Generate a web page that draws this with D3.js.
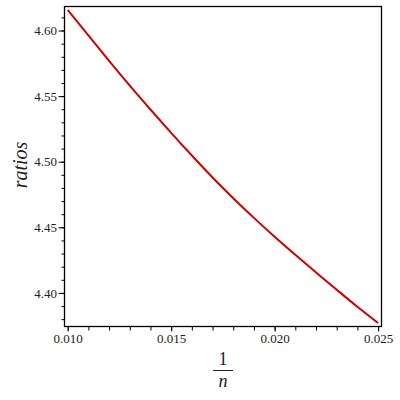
<!DOCTYPE html>
<html>
<head>
<meta charset="utf-8">
<script src="https://cdn.jsdelivr.net/npm/d3@7"></script>
<style>
  body { margin: 0; background: #fff; }
</style>
</head>
<body>
<svg id="chart" width="400" height="400"></svg>
<script>
// values: 1/n against ratios
var invN = [0.010, 0.011, 0.012, 0.013, 0.014, 0.015, 0.016, 0.017,
            0.018, 0.019, 0.020, 0.021, 0.022, 0.023, 0.024, 0.025];
var ratios = [4.6157, 4.5963, 4.5768, 4.5580, 4.5398, 4.5220, 4.5047, 4.4880,
              4.4722, 4.4572, 4.4428, 4.4290, 4.4156, 4.4024, 4.3894, 4.3770];

var xMajor = [0.010, 0.015, 0.020, 0.025];
var yMajor = [4.40, 4.45, 4.50, 4.55, 4.60];

var xMinor = d3.range(10, 26).map(d => d / 1000);
var yMinor = d3.range(438, 462).map(d => d / 100);

var serif = "'Liberation Serif', 'Times New Roman', serif";

var svg = d3.select("#chart");

var box = { left: 64.5, right: 381.5, top: 6.5, bottom: 326.5 };

var x = d3.scaleLinear()
    .domain([0.009846, 0.025164])
    .range([box.left, box.right]);

var y = d3.scaleLinear()
    .domain([4.3744, 4.6183])
    .range([box.bottom, box.top]);

svg.append("rect")
    .attr("width", 400).attr("height", 400)
    .attr("fill", "#fff");

// style an axis group the Maple way
function style_axis(g) {
    g.select(".domain").remove();
    g.selectAll("line").attr("stroke", "#000");
    g.selectAll("text")
        .style("font-family", serif)
        .style("font-size", "13px")
        .attr("fill", "#222");
}

// minor ticks
svg.append("g")
    .attr("transform", `translate(0,${box.bottom})`)
    .call(d3.axisBottom(x).tickValues(xMinor).tickSize(4).tickFormat(""))
    .call(style_axis);

svg.append("g")
    .attr("transform", `translate(${box.left},0)`)
    .call(d3.axisLeft(y).tickValues(yMinor).tickSize(3).tickFormat(""))
    .call(style_axis);

// major ticks with labels
svg.append("g")
    .attr("transform", `translate(0,${box.bottom})`)
    .call(d3.axisBottom(x).tickValues(xMajor).tickSize(5).tickPadding(2)
        .tickFormat(d3.format(".3f")))
    .call(style_axis);

svg.append("g")
    .attr("transform", `translate(${box.left},0)`)
    .call(d3.axisLeft(y).tickValues(yMajor).tickSize(6).tickPadding(1.5)
        .tickFormat(d3.format(".2f")))
    .call(style_axis);

// frame
svg.append("rect")
    .attr("x", box.left).attr("y", box.top)
    .attr("width", box.right - box.left)
    .attr("height", box.bottom - box.top)
    .attr("fill", "none")
    .attr("stroke", "#000")
    .attr("stroke-width", 1.3);

// curve
var line = d3.line()
    .x((d, i) => x(invN[i]))
    .y(d => y(d))
    .curve(d3.curveMonotoneX);

svg.append("path")
    .datum(ratios)
    .attr("d", line)
    .attr("fill", "none")
    .attr("stroke", "#d00000")
    .attr("stroke-width", 2);

// y label
svg.append("text")
    .attr("transform", "translate(27,165) rotate(-90)")
    .attr("text-anchor", "middle")
    .style("font-family", serif)
    .style("font-style", "italic")
    .style("font-size", "20px")
    .attr("fill", "#222")
    .text("ratios");

// x label as a fraction 1/n
var cx = (box.left + box.right) / 2;
var frac = svg.append("g")
    .style("font-family", serif)
    .style("font-size", "18px")
    .attr("fill", "#222");

frac.append("text")
    .attr("x", cx).attr("y", 365)
    .attr("text-anchor", "middle")
    .text("1");

frac.append("line")
    .attr("x1", cx - 10).attr("x2", cx + 10)
    .attr("y1", 370.5).attr("y2", 370.5)
    .attr("stroke", "#222")
    .attr("stroke-width", 1);

frac.append("text")
    .attr("x", cx).attr("y", 387)
    .attr("text-anchor", "middle")
    .style("font-style", "italic")
    .text("n");
</script>
</body>
</html>
